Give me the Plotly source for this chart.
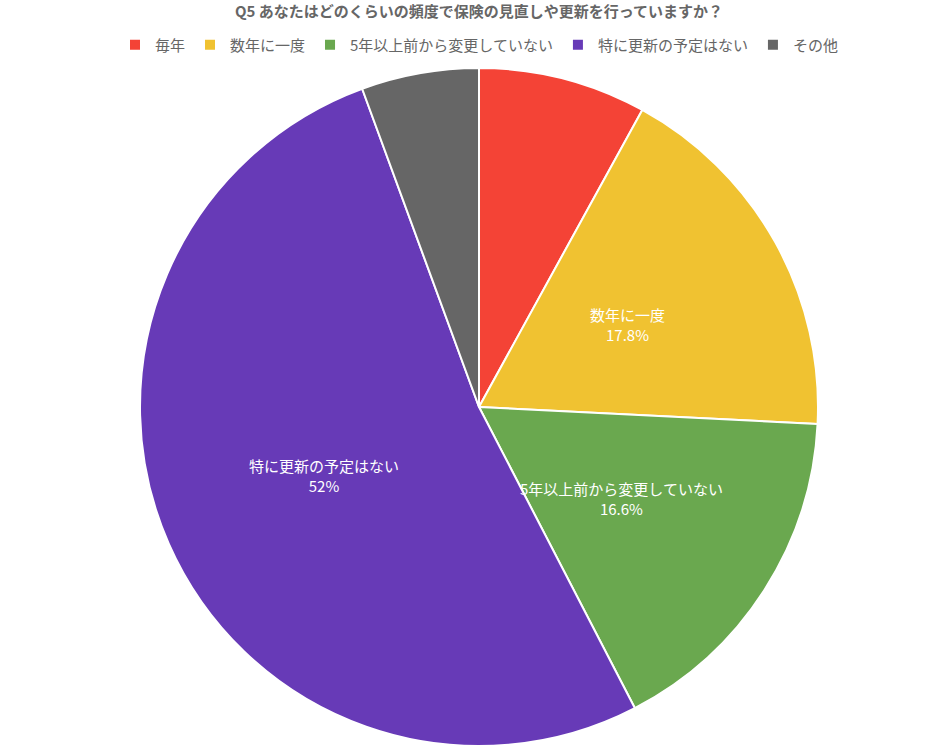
import math
import plotly.graph_objects as go

title = "Q5 あなたはどのくらいの頻度で保険の見直しや更新を行っていますか？"
labels = ["毎年", "数年に一度", "5年以上前から変更していない", "特に更新の予定はない", "その他"]
values = [8.0, 17.8, 16.6, 52.0, 5.6]
value_text = ["8%", "17.8%", "16.6%", "52%", "5.6%"]
show_label = [False, True, True, True, False]
colors = ["#F44336", "#F0C231", "#6AA84F", "#673AB7", "#666666"]

W, H = 951, 750
cx, cy, r = 479, 407, 339

fig = go.Figure(go.Pie(
    labels=labels,
    values=values,
    textinfo="none",
    sort=False,
    direction="clockwise",
    rotation=0,
    marker=dict(colors=colors, line=dict(color="white", width=2)),
    domain=dict(x=[(cx - r) / W, (cx + r) / W], y=[1 - (cy + r) / H, 1 - (cy - r) / H]),
    hoverinfo="label+percent",
))

# datalabels at the middle of each arc (half radius), derived from the values
total = sum(values)
cum = 0.0
annotations = []
for lab, val, vt, show in zip(labels, values, value_text, show_label):
    mid = (cum + val / 2) / total * 2 * math.pi
    cum += val
    if not show:
        continue
    px = cx + (r / 2) * math.sin(mid)
    py = cy - (r / 2) * math.cos(mid)
    annotations.append(dict(
        x=px / W, y=1 - py / H, xref="paper", yref="paper",
        text=f"{lab}<br>{vt}", showarrow=False, xanchor="center", yanchor="middle",
        align="center",
        font=dict(color="white", size=15, family="Noto Sans CJK JP"),
    ))

fig.update_layout(
    width=W, height=H,
    margin=dict(l=0, r=0, t=0, b=0),
    paper_bgcolor="white",
    font=dict(family="Noto Sans CJK JP", color="#666666", size=15),
    title=dict(text=f"<b>{title}</b>", x=cx / W, xanchor="center", y=1 - 12 / H, yanchor="middle",
               font=dict(size=15, color="#666666", family="Noto Sans CJK JP")),
    legend=dict(orientation="h", x=cx / W, xanchor="center", y=1 - 45 / H, yanchor="middle",
                font=dict(size=15, color="#666666"), traceorder="normal"),
    annotations=annotations,
)

fig.write_html("out.html", post_script="document.body.style.margin='0';",
               config={"displayModeBar": False})
